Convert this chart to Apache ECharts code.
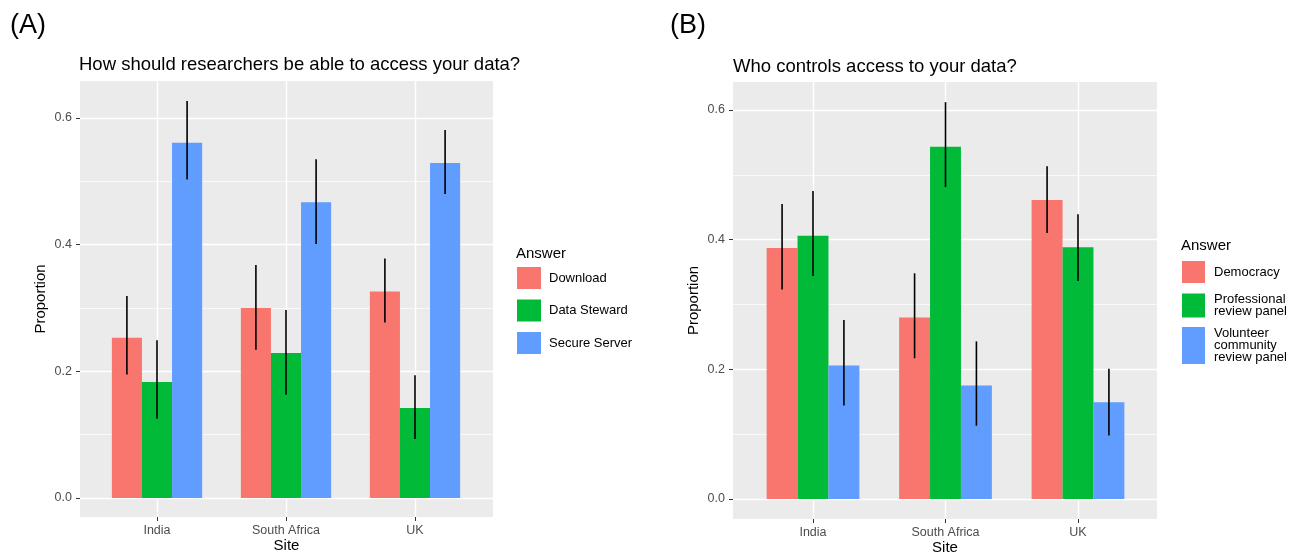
<!DOCTYPE html>
<html>
<head>
<meta charset="utf-8">
<script src="https://cdn.jsdelivr.net/npm/echarts@6/dist/echarts.min.js"></script>
<style>html,body{margin:0;padding:0;background:#fff;overflow:hidden;}#c{width:1300px;height:554px;}</style>
</head>
<body>
<div id="c"></div>
<script>
// ---------- data ----------
const categories = ['India', 'South Africa', 'UK'];
const yTicks = [0, 0.2, 0.4, 0.6];

// Panel A: How should researchers be able to access your data?
const answersA = ['Download', 'Data Steward', 'Secure Server'];
const aDownload      = [0.253, 0.300, 0.326];
const aDownloadLow   = [0.195, 0.234, 0.277];
const aDownloadHigh  = [0.319, 0.368, 0.378];
const aSteward       = [0.183, 0.229, 0.142];
const aStewardLow    = [0.125, 0.163, 0.093];
const aStewardHigh   = [0.249, 0.297, 0.194];
const aSecure        = [0.561, 0.467, 0.529];
const aSecureLow     = [0.503, 0.401, 0.480];
const aSecureHigh    = [0.627, 0.535, 0.581];

// Panel B: Who controls access to your data?
const answersB = ['Democracy', 'Professional\nreview panel', 'Volunteer\ncommunity\nreview panel'];
const bDemocracy     = [0.387, 0.280, 0.461];
const bDemocracyLow  = [0.323, 0.217, 0.410];
const bDemocracyHigh = [0.455, 0.348, 0.513];
const bProf          = [0.406, 0.543, 0.388];
const bProfLow       = [0.344, 0.481, 0.336];
const bProfHigh      = [0.475, 0.612, 0.439];
const bVol           = [0.206, 0.175, 0.149];
const bVolLow        = [0.144, 0.113, 0.098];
const bVolHigh       = [0.276, 0.243, 0.201];

const colors = ['#F8766D', '#00BA38', '#619CFF'];
const FONT = '"Liberation Sans", Arial, Helvetica, sans-serif';

// ---------- layout per panel ----------
const panels = [
  { // A
    panel: {left: 80, top: 81, width: 413, height: 436},
    ygrid: {left: 80, top: 118, width: 413, height: 380},
    xgrid: {left: 157, top: 81, width: 258, height: 436},
    xmin: -0.0300, xmax: 0.6584,
    answers: answersA,
    vals: [aDownload, aSteward, aSecure],
    lows: [aDownloadLow, aStewardLow, aSecureLow],
    highs: [aDownloadHigh, aStewardHigh, aSecureHigh]
  },
  { // B
    panel: {left: 733, top: 82, width: 424, height: 437},
    ygrid: {left: 733, top: 110, width: 424, height: 389},
    xgrid: {left: 813, top: 82, width: 265, height: 437},
    xmin: -0.03084, xmax: 0.6430,
    answers: answersB,
    vals: [bDemocracy, bProf, bVol],
    lows: [bDemocracyLow, bProfLow, bVolLow],
    highs: [bDemocracyHigh, bProfHigh, bVolHigh]
  }
];

const gridBase = {containLabel: false, outerBoundsMode: 'none'};
const grid = [], xAxis = [], yAxis = [], series = [];
panels.forEach(function (p, pi) {
  const g0 = grid.length;
  grid.push(Object.assign({show: true, backgroundColor: '#EBEBEB', borderWidth: 0}, gridBase, p.panel));
  grid.push(Object.assign({show: false}, gridBase, p.ygrid));
  grid.push(Object.assign({show: false}, gridBase, p.xgrid));

  // panel grid axes (only names)
  xAxis.push({gridIndex: g0, type: 'value', min: 0, max: 1, name: 'Site', nameLocation: 'middle', nameGap: 21,
    nameTextStyle: {fontFamily: FONT, fontSize: 15, color: '#000'},
    axisLine: {show: false, onZero: false}, axisTick: {show: false}, axisLabel: {show: false}, splitLine: {show: false}});
  yAxis.push({gridIndex: g0, type: 'value', min: 0, max: 1, name: 'Proportion', nameLocation: 'middle', nameGap: 32,
    nameTextStyle: {fontFamily: FONT, fontSize: 15, color: '#000'},
    axisLine: {show: false, onZero: false}, axisTick: {show: false}, axisLabel: {show: false}, splitLine: {show: false}});

  // y grid (value ticks and horizontal lines)
  xAxis.push({gridIndex: g0 + 1, type: 'value', show: false, min: 0, max: 1, axisLine: {onZero: false}});
  yAxis.push({gridIndex: g0 + 1, type: 'value', min: yTicks[0], max: yTicks[yTicks.length - 1], interval: 0.2,
    axisLine: {show: false, onZero: false},
    axisTick: {show: true, length: 4, lineStyle: {color: '#333', width: 1}},
    axisLabel: {fontFamily: FONT, fontSize: 12.5, color: '#4D4D4D', margin: 8, formatter: function (v) { return v.toFixed(1); }},
    splitLine: {show: true, lineStyle: {color: '#FFFFFF', width: 1.4}},
    minorTick: {show: false, splitNumber: 2},
    minorSplitLine: {show: true, lineStyle: {color: '#FFFFFF', width: 0.7}}});

  // x grid (categories, vertical lines, data)
  xAxis.push({gridIndex: g0 + 2, type: 'category', data: categories, boundaryGap: false,
    axisLine: {show: false, onZero: false},
    axisTick: {show: true, length: 4, lineStyle: {color: '#333', width: 1}},
    axisLabel: {fontFamily: FONT, fontSize: 12.5, color: '#4D4D4D', margin: 7},
    splitLine: {show: true, lineStyle: {color: '#FFFFFF', width: 1.4}}});
  yAxis.push({gridIndex: g0 + 2, type: 'value', show: false, min: p.xmin, max: p.xmax, axisLine: {onZero: false}});

  const ax = xAxis.length - 1, ay = yAxis.length - 1;
  p.answers.forEach(function (name, j) {
    series.push({
      type: 'bar', name: name, xAxisIndex: ax, yAxisIndex: ay,
      data: p.vals[j], barWidth: '23.333%', barGap: '0%', clip: false,
      itemStyle: {color: colors[j]}, emphasis: {disabled: true}, animation: false, z: 2
    });
  });
  p.answers.forEach(function (name, j) {
    const errData = categories.map(function (c, i) { return [i, p.lows[j][i], p.highs[j][i]]; });
    series.push({
      type: 'custom', name: name, xAxisIndex: ax, yAxisIndex: ay, data: errData, z: 5,
      animation: false, silent: true,
      encode: {x: 0, y: [1, 2]},
      renderItem: function (params, api) {
        const band = api.size([1, 0])[0];
        const off = (j - 1) * band * 0.7 / 3;
        const lo = api.coord([api.value(0), api.value(1)]);
        const hi = api.coord([api.value(0), api.value(2)]);
        return {type: 'line', shape: {x1: lo[0] + off, y1: lo[1], x2: hi[0] + off, y2: hi[1]},
          style: {stroke: '#000', lineWidth: 1.6}};
      }
    });
  });
});

const legendBase = {orient: 'vertical', icon: 'rect', padding: 0, selectedMode: false,
  textStyle: {fontFamily: FONT, fontSize: 13, color: '#000', lineHeight: 12}};

const titleStyle = function (size, lh) {
  return {fontFamily: FONT, fontSize: size, fontWeight: 'normal', color: '#000', lineHeight: lh};
};

const option = {
  animation: false,
  backgroundColor: '#FFFFFF',
  title: [
    {text: '(A)', left: 10, top: 11, padding: 0, textStyle: titleStyle(27, 30)},
    {text: '(B)', left: 670, top: 11, padding: 0, textStyle: titleStyle(27, 30)},
    {text: 'How should researchers be able to access your data?', left: 79, top: 55, padding: 0, textStyle: titleStyle(18.5, 20)},
    {text: 'Who controls access to your data?', left: 733, top: 57, padding: 0, textStyle: titleStyle(18.5, 20)},
    {text: 'Answer', left: 516, top: 245, padding: 0, textStyle: titleStyle(15, 18)},
    {text: 'Answer', left: 1181, top: 237, padding: 0, textStyle: titleStyle(15, 18)}
  ],
  legend: [
    Object.assign({}, legendBase, {data: answersA, left: 517, top: 267, itemWidth: 24, itemHeight: 22, itemGap: 10.5,
      textStyle: Object.assign({}, legendBase.textStyle, {padding: [0, 0, 0, 3]})}),
    Object.assign({}, legendBase, {data: [answersB[0]], left: 1182, top: 261, itemWidth: 23, itemHeight: 22,
      textStyle: Object.assign({}, legendBase.textStyle, {padding: [0, 0, 0, 4]})}),
    Object.assign({}, legendBase, {data: [answersB[1]], left: 1182, top: 293, itemWidth: 23, itemHeight: 24,
      textStyle: Object.assign({}, legendBase.textStyle, {padding: [0, 0, 0, 4]})}),
    Object.assign({}, legendBase, {data: [answersB[2]], left: 1182, top: 327, itemWidth: 23, itemHeight: 37,
      textStyle: Object.assign({}, legendBase.textStyle, {padding: [0, 0, 0, 4]})})
  ],
  grid: grid,
  xAxis: xAxis,
  yAxis: yAxis,
  series: series
};

const chart = echarts.init(document.getElementById('c'), null, {renderer: 'canvas'});
chart.setOption(option);
</script>
</body>
</html>
